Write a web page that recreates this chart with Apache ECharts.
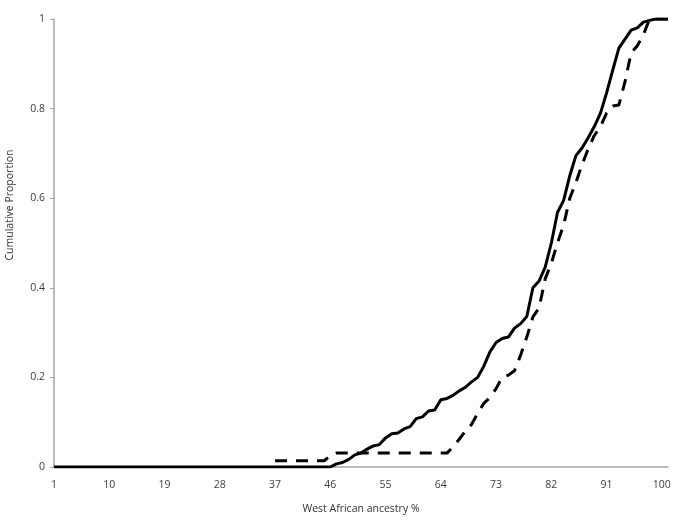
<!DOCTYPE html>
<html>
<head>
<meta charset="utf-8">
<script src="https://cdn.jsdelivr.net/npm/echarts@6/dist/echarts.min.js"></script>
<style>
  html, body { margin: 0; padding: 0; background: #fff; }
  #chart { width: 675px; height: 522px; }
</style>
</head>
<body>
<div id="chart"></div>
<script>
// ancestry % categories 1..101
var categories = [];
for (var i = 1; i <= 101; i++) categories.push(String(i));

// solid line (index 0 = 1%)
var solidValues = [
  0,0,0,0,0,0,0,0,0,0,            // 1-10
  0,0,0,0,0,0,0,0,0,0,            // 11-20
  0,0,0,0,0,0,0,0,0,0,            // 21-30
  0,0,0,0,0,0,0,0,0,0,            // 31-40
  0,0,0,0,0,0,                    // 41-46
  0.007,0.01,0.017,0.027,         // 47-50
  0.031,0.04,0.047,0.05,0.065,0.074,0.076,0.085,0.09,0.108,   // 51-60
  0.112,0.125,0.127,0.15,0.153,0.16,0.17,0.178,0.19,0.2,      // 61-70
  0.225,0.257,0.278,0.287,0.29,0.31,0.32,0.336,0.4,0.415,     // 71-80
  0.446,0.5,0.568,0.595,0.65,0.695,0.712,0.735,0.76,0.79,     // 81-90
  0.835,0.886,0.935,0.955,0.975,0.98,0.993,0.997,1,1,         // 91-100
  1                                                           // 101
];

// dashed line, starts at 37%
var dashedValues = [
  '-','-','-','-','-','-','-','-','-','-',   // 1-10
  '-','-','-','-','-','-','-','-','-','-',   // 11-20
  '-','-','-','-','-','-','-','-','-','-',   // 21-30
  '-','-','-','-','-','-',                   // 31-36
  0.014,0.014,0.014,0.014,                   // 37-40
  0.014,0.014,0.014,0.014,0.014,0.025,0.031,0.031,0.031,0.031, // 41-50
  0.031,0.031,0.031,0.031,0.031,0.031,0.031,0.031,0.031,0.031, // 51-60
  0.031,0.031,0.031,0.031,0.031,0.045,0.062,0.08,0.095,0.12,   // 61-70
  0.142,0.155,0.175,0.2,0.205,0.215,0.25,0.29,0.335,0.355,     // 71-80
  0.42,0.455,0.5,0.54,0.6,0.635,0.675,0.71,0.74,0.76,          // 81-90
  0.79,0.806,0.808,0.86,0.925,0.94,0.965,1,1,1,                // 91-100
  1                                                            // 101
];

var yTicks = [0, 0.2, 0.4, 0.6, 0.8, 1];

var chart = echarts.init(document.getElementById('chart'));
chart.setOption({
  animation: false,
  textStyle: { fontFamily: 'Open Sans' },
  grid: { left: 54, right: 7, top: 19, bottom: 55, containLabel: false, outerBoundsMode: 'none' },
  xAxis: {
    type: 'category',
    data: categories,
    boundaryGap: false,
    name: 'West African ancestry %',
    nameLocation: 'middle',
    nameGap: 37,
    nameTextStyle: { color: '#333', fontSize: 10.5 },
    axisLine: { lineStyle: { color: '#a6a6a6', width: 1.5 } },
    axisTick: { show: false },
    axisLabel: { interval: 8, color: '#404040', fontSize: 10.5, margin: 13 }
  },
  yAxis: {
    type: 'value',
    min: 0,
    max: 1,
    interval: 0.2,
    name: 'Cumulative Proportion',
    nameLocation: 'middle',
    nameGap: 38,
    nameTextStyle: { color: '#333', fontSize: 10.5, padding: [0, 0, 0, 76] },
    splitLine: { show: false },
    axisLine: { show: true, lineStyle: { color: '#a6a6a6', width: 1.5 } },
    axisTick: { show: true, length: 4, lineStyle: { color: '#a6a6a6' } },
    axisLabel: {
      color: '#404040', fontSize: 10.5, margin: 9,
      formatter: function (v) { return yTicks.indexOf(v) >= 0 ? String(+v.toFixed(1)) : ''; }
    }
  },
  series: [
    {
      type: 'line',
      data: solidValues,
      symbol: 'none',
      lineStyle: { color: '#000', width: 3 },
      z: 3
    },
    {
      type: 'line',
      data: dashedValues,
      symbol: 'none',
      connectNulls: false,
      lineStyle: { color: '#000', width: 3, type: [12, 9] },
      z: 2
    }
  ]
});
</script>
</body>
</html>
